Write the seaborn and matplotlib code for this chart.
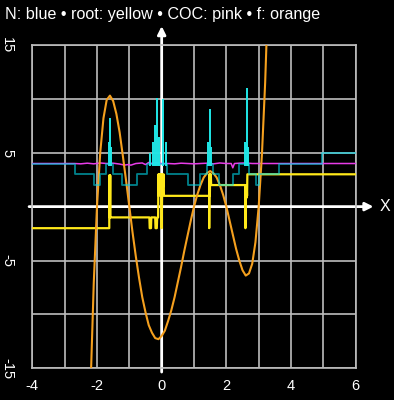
import numpy as np
import matplotlib
matplotlib.use("Agg")
import matplotlib.pyplot as plt
import seaborn as sns

# f(x)
f_x = [-2.3, -2.2, -2.1, -2.0, -1.9, -1.8, -1.7, -1.6, -1.5, -1.4, -1.3, -1.2, -1.1, -1.0,
       -0.9, -0.8, -0.7, -0.6, -0.5, -0.4, -0.3, -0.2, -0.1, 0.0, 0.1, 0.2, 0.3, 0.4, 0.5,
       0.6, 0.7, 0.8, 0.9, 1.0, 1.1, 1.2, 1.3, 1.4, 1.5, 1.6, 1.7, 1.8, 1.9, 2.0, 2.1, 2.2,
       2.3, 2.4, 2.5, 2.6, 2.7, 2.8, 2.9, 3.0, 3.1, 3.2, 3.3]
f_y = [-29.3, -16.8, -7.1, 0.0, 5.0, 8.2, 9.9, 10.3, 9.8, 8.6, 6.9, 4.7, 2.4, 0.0,
       -2.4, -4.6, -6.6, -8.4, -9.8, -11.0, -11.7, -12.2, -12.3, -12.0, -11.5, -10.6, -9.6,
       -8.4, -7.0, -5.6, -4.1, -2.7, -1.3, 0.0, 1.1, 2.0, 2.7, 3.1, 3.3, 3.1, 2.7, 2.0, 1.1,
       0.0, -1.3, -2.6, -3.9, -5.0, -5.9, -6.4, -6.2, -5.3, -3.3, 0.0, 4.8, 11.5, 20.4]

# root reached from each start (yellow)
root_x = [-4, -1.62, -1.62, -1.61, -1.605, -1.6, -1.59, -1.585, -1.575,
          -0.38, -0.37, -0.33, -0.32, -0.2, -0.19, -0.15, -0.14, -0.11,
          -0.1, -0.09, -0.08, -0.06, -0.05, -0.03, -0.02, 0.0, 0.02, 0.04, 0.06, 0.07,
          1.47, 1.47, 1.48, 1.49, 1.5, 1.51, 1.52, 1.53,
          2.58, 2.59, 2.6, 2.61, 2.62, 2.63, 2.64, 2.65, 6]
root_y = [-2, -2, 2.9, -1, 2.9, -1, 2.9, -1, -1,
          -1, -2, -2, -1, -1, -2, -2, -1, -1,
          3, 1, 3, 2, 3, 1.8, 3, -2, 3, 1.8, 3, 1,
          1, -2, 3, 1, 3, 2, 3, 2,
          2, -2, 1, 2, 0.8, 2, 1, 3, 3]

# iteration count N (staircase, steps-post)
N_x = [-4, -2.68, -2.08, -1.91, -1.72, -1.5, -1.24, -0.77, -0.46, 0.15, 0.8, 1.18,
       1.39, 1.6, 1.78, 2.21, 2.4, 2.7, 2.92, 3.02, 3.64, 4.95, 6]
N_y = [4, 3, 2, 3, 4, 3, 2, 3, 4, 3, 2, 3, 4, 3, 2, 3, 4, 3, 2, 3, 4, 5, 5]

# N spikes near the turning points
spike_x = [-1.64, -1.6, -1.56, -0.36, -0.28, -0.21, -0.14, -0.07, 0.05, 0.12,
           1.44, 1.49, 1.54, 2.58, 2.63, 2.67]
spike_top = [6.0, 8.2, 5.5, 5.0, 6.0, 7.6, 10.1, 6.5, 10.0, 6.0,
             6.0, 9.1, 5.5, 6.0, 11.0, 5.5]

# computational order of convergence (pink)
coc_x = [-4, -2.7, -2.5, -2.3, -2.1, -1.9, -1.7, -1.5, -1.3, -1.15, -1.05, -0.95, -0.8,
         -0.6, -0.5, -0.4, -0.3, -0.2, 0.0, 0.2, 0.4, 0.6, 0.8, 1.0, 1.2, 1.4, 1.6, 1.8,
         2.0, 2.15, 2.2, 2.25, 2.4, 2.6, 2.8, 3.0, 3.5, 4, 5, 6]
coc_y = [4.0, 4.0, 3.97, 4.03, 3.97, 4.05, 4.0, 4.03, 3.95, 3.85, 3.9, 3.85, 4.0,
         4.05, 3.9, 4.1, 4.0, 4.08, 4.0, 4.0, 3.97, 4.03, 4.0, 3.97, 4.0, 4.03, 3.97, 4.05,
         4.0, 4.0, 3.6, 4.0, 4.03, 4.05, 4.0, 4.0, 4.0, 4.0, 4.0, 4.0]

x_ticks = list(range(-4, 7))
x_labels = [str(t) if t % 2 == 0 else "" for t in x_ticks]
y_ticks = list(range(-15, 16, 5))
y_labels = [str(t) if t % 10 != 0 else "" for t in y_ticks]

sns.set_theme(style="dark", rc={
    "figure.facecolor": "black",
    "axes.facecolor": "black",
    "grid.color": "#bdbdbd",
    "grid.linewidth": 1.2,
})
plt.rcParams["font.family"] = ["Liberation Sans", "DejaVu Sans"]

fig = plt.figure(figsize=(3.94, 4.0), dpi=100)
ax = fig.add_axes([0.082, 0.0793, 0.8208, 0.8083])

ax.set_xlim(-4, 6)
ax.set_ylim(-15, 15)
ax.set_xticks(x_ticks)
ax.set_xticklabels(x_labels)
ax.set_yticks(y_ticks)
ax.set_yticklabels(y_labels, rotation=-90, va="center")
ax.grid(True, zorder=0)
ax.tick_params(length=0, labelcolor="white", labelsize=10.5)
ax.tick_params(axis="x", pad=8)
ax.tick_params(axis="y", pad=13)
for s in ax.spines.values():
    s.set_color("#bdbdbd")
    s.set_linewidth(1.2)

# white axes with arrows
ax.annotate("", xy=(6.55, 0), xytext=(-4.1, 0), annotation_clip=False,
            arrowprops=dict(arrowstyle="-|>", color="white", lw=2, mutation_scale=12,
                            shrinkA=0, shrinkB=0), zorder=2)
ax.annotate("", xy=(0, 16.75), xytext=(0, -15.35), annotation_clip=False,
            arrowprops=dict(arrowstyle="-|>", color="white", lw=2, mutation_scale=12,
                            shrinkA=0, shrinkB=0), zorder=2)
ax.text(6.9, 0, "X", color="white", fontsize=11.5, ha="center", va="center", clip_on=False)

sns.lineplot(x=coc_x, y=coc_y, estimator=None, sort=False, color="#e83ce8", lw=1.1,
             ax=ax, zorder=3)
sns.lineplot(x=root_x, y=root_y, estimator=None, sort=False, color="#ffe81a", lw=1.6,
             ax=ax, zorder=4)
sns.lineplot(x=f_x, y=f_y, estimator=None, sort=False, color="#f5a01e", lw=1.5,
             ax=ax, zorder=5)
sns.lineplot(x=N_x, y=N_y, estimator=None, sort=False, color="#00d8e8", alpha=0.6, lw=1.3,
             drawstyle="steps-post", ax=ax, zorder=6)
ax.vlines(spike_x, 3.8, spike_top, color="#20e8e8", lw=1.4, zorder=6)

fig.text(0.013, 0.965, "N: blue \u2022 root: yellow \u2022 COC: pink \u2022 f: orange",
         color="white", fontsize=11.6, ha="left", va="center")

fig.savefig("out.png", dpi=100, facecolor="black")
